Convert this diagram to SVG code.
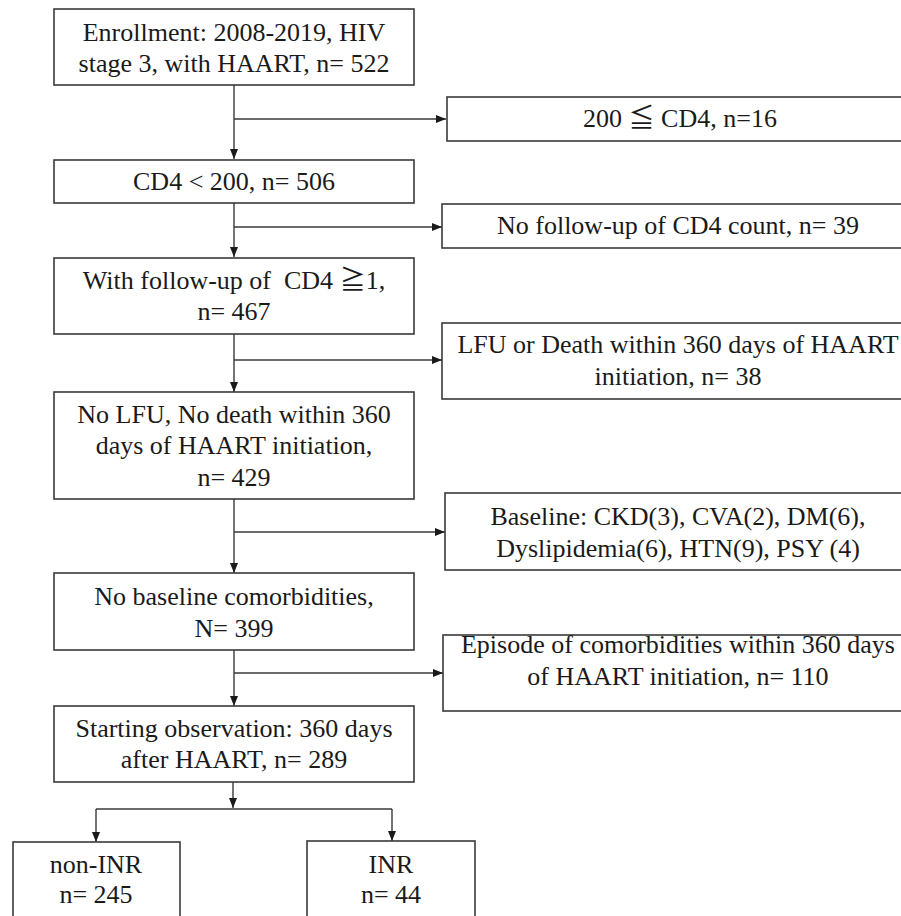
<svg xmlns="http://www.w3.org/2000/svg" width="901" height="916" viewBox="0 0 901 916">
<defs>
<marker id="ah" viewBox="0 0 10 8" refX="10" refY="4" markerWidth="10" markerHeight="8" markerUnits="userSpaceOnUse" orient="auto">
<path d="M0,0 L10,4 L0,8 Z" fill="#1a1a1a"/>
</marker>
<style>
.box{fill:#fff;stroke:#3a3a3a;stroke-width:1.6}
.t{font-family:"Liberation Serif","Times New Roman",Times,"DejaVu Serif",serif;font-size:26px;fill:#1a1a1a;text-anchor:middle}
.s{font-family:"DejaVu Serif","Noto Sans CJK JP",serif}
.c{fill:none;stroke:#3a3a3a;stroke-width:1.4}
.a{fill:none;stroke:#3a3a3a;stroke-width:1.4;marker-end:url(#ah)}
</style>
</defs>
<rect width="901" height="916" fill="#fff"/>
<g id="connectors">
<line class="a" x1="234" y1="85" x2="234" y2="159"/>
<line class="a" x1="234" y1="119" x2="446" y2="119"/>
<line class="a" x1="234" y1="203" x2="234" y2="257"/>
<line class="a" x1="234" y1="227" x2="442" y2="227"/>
<line class="a" x1="234" y1="334" x2="234" y2="392"/>
<line class="a" x1="234" y1="360" x2="442" y2="360"/>
<line class="a" x1="234" y1="499" x2="234" y2="573"/>
<line class="a" x1="234" y1="532" x2="445" y2="532"/>
<line class="a" x1="234" y1="650" x2="234" y2="706"/>
<line class="a" x1="234" y1="673" x2="443" y2="673"/>
<line class="a" x1="233" y1="782" x2="233" y2="808"/>
<polyline class="c" points="96,809 392,809"/>
<line class="a" x1="96" y1="809" x2="96" y2="842"/>
<line class="a" x1="392" y1="809" x2="392" y2="841"/>
</g>
<g id="n-enroll">
<rect class="box" x="54" y="9" width="360" height="76"/>
<text class="t" x="234" y="41">Enrollment: 2008-2019, HIV</text>
<text class="t" x="234" y="72">stage 3, with HAART, n= 522</text>
</g>
<g id="n-cd4ge200">
<rect class="box" x="447" y="97" width="470" height="44"/>
<text class="t" x="680" y="127">200 <tspan class="s">≦</tspan> CD4, n=16</text>
</g>
<g id="n-cd4lt200">
<rect class="box" x="54" y="160" width="360" height="43"/>
<text class="t" x="234" y="190">CD4 &lt; 200, n= 506</text>
</g>
<g id="n-nofollow">
<rect class="box" x="442" y="204" width="475" height="44"/>
<text class="t" x="678" y="234">No follow-up of CD4 count, n= 39</text>
</g>
<g id="n-follow">
<rect class="box" x="54" y="258" width="360" height="76"/>
<text class="t" x="234" y="289" xml:space="preserve">With follow-up of  CD4 <tspan class="s">≧</tspan>1,</text>
<text class="t" x="234" y="320">n= 467</text>
</g>
<g id="n-lfu">
<rect class="box" x="442" y="323" width="475" height="76"/>
<text class="t" x="678" y="353">LFU or Death within 360 days of HAART</text>
<text class="t" x="678" y="385">initiation, n= 38</text>
</g>
<g id="n-nolfu">
<rect class="box" x="54" y="392" width="360" height="107"/>
<text class="t" x="234" y="423">No LFU, No death within 360</text>
<text class="t" x="234" y="454">days of HAART initiation,</text>
<text class="t" x="234" y="486">n= 429</text>
</g>
<g id="n-baseline">
<rect class="box" x="445" y="493" width="472" height="77"/>
<text class="t" x="678" y="525">Baseline: CKD(3), CVA(2), DM(6),</text>
<text class="t" x="678" y="557">Dyslipidemia(6), HTN(9), PSY (4)</text>
</g>
<g id="n-nocomorb">
<rect class="box" x="54" y="573" width="360" height="77"/>
<text class="t" x="234" y="605">No baseline comorbidities,</text>
<text class="t" x="234" y="637">N= 399</text>
</g>
<g id="n-episode">
<rect class="box" x="443" y="635" width="474" height="76"/>
<text class="t" x="678" y="653">Episode of comorbidities within 360 days</text>
<text class="t" x="678" y="685">of HAART initiation, n= 110</text>
</g>
<g id="n-start">
<rect class="box" x="54" y="706" width="360" height="76"/>
<text class="t" x="234" y="737">Starting observation: 360 days</text>
<text class="t" x="234" y="768">after HAART, n= 289</text>
</g>
<g id="n-noninr">
<rect class="box" x="13" y="842" width="167" height="90"/>
<text class="t" x="96" y="873">non-INR</text>
<text class="t" x="96" y="903">n= 245</text>
</g>
<g id="n-inr">
<rect class="box" x="307" y="841" width="168" height="90"/>
<text class="t" x="391" y="873">INR</text>
<text class="t" x="391" y="903">n= 44</text>
</g>
</svg>
